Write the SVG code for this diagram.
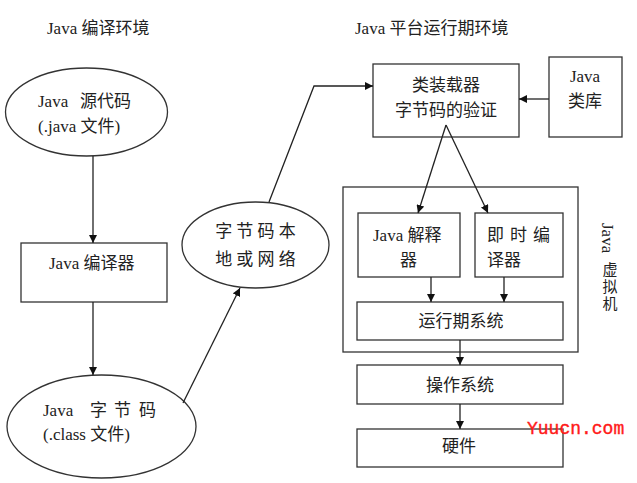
<svg xmlns="http://www.w3.org/2000/svg" width="637" height="483" viewBox="0 0 637 483">
<defs>
<style>
text{font-family:"Liberation Serif","Noto Sans CJK SC",serif;font-size:17px;fill:#222}
.m{text-anchor:middle}
.v{text-anchor:middle;font-size:15px}
.s{fill:#fff;stroke:#333;stroke-width:1.3}
.c{fill:none;stroke:#222;stroke-width:1.3}
.wm{font-family:"Liberation Mono",monospace;font-size:18px;fill:#ff1a1a;stroke:#ff1a1a;stroke-width:0.4}
</style>
<marker id="a" viewBox="0 0 10 10" refX="10" refY="5" markerWidth="8" markerHeight="8" markerUnits="userSpaceOnUse" orient="auto">
<path d="M0,0 L10,5 L0,10 z" fill="#111"/>
</marker>
</defs>
<rect width="637" height="483" fill="#fff"/>
<text x="47" y="34">Java 编译环境</text>
<text x="355" y="34">Java 平台运行期环境</text>
<g id="jvm">
<rect class="s" x="343" y="187" width="235" height="165"/>
<text x="602" y="223" transform="rotate(90 602 223)">Java</text>
<text class="v" x="610" y="275">虚</text>
<text class="v" x="610" y="292">拟</text>
<text class="v" x="610" y="309">机</text>
</g>
<g id="src">
<ellipse class="s" cx="86.5" cy="112" rx="81" ry="44"/>
<text x="38" y="107">Java<tspan x="80">源代码</tspan></text>
<text x="38" y="132">(.java 文件)</text>
</g>
<g id="compiler">
<rect class="s" x="21" y="243" width="146" height="59"/>
<text x="49" y="269">Java 编译器</text>
</g>
<g id="bytecode">
<ellipse class="s" cx="101.5" cy="426.5" rx="94.5" ry="51.5"/>
<text x="43" y="416">Java<tspan x="90">字</tspan><tspan x="114">节</tspan><tspan x="139">码</tspan></text>
<text x="43" y="440">(.class 文件)</text>
</g>
<g id="net">
<ellipse class="s" cx="255.5" cy="245" rx="73.5" ry="43"/>
<text class="m" x="255.5" y="237">字 节 码 本</text>
<text class="m" x="255.5" y="265">地 或 网 络</text>
</g>
<g id="loader">
<rect class="s" x="373" y="64" width="146" height="73"/>
<text class="m" x="446" y="91">类装载器</text>
<text class="m" x="446" y="116">字节码的验证</text>
</g>
<g id="lib">
<rect class="s" x="549" y="57" width="73" height="80"/>
<text class="m" x="585" y="82">Java</text>
<text class="m" x="585" y="107">类库</text>
</g>
<g id="interp">
<rect class="s" x="358" y="213" width="102" height="64"/>
<text x="373" y="241">Java 解释</text>
<text x="400" y="266">器</text>
</g>
<g id="jit">
<rect class="s" x="475" y="213" width="88" height="64"/>
<text x="487" y="241">即<tspan x="510">时</tspan><tspan x="533">编</tspan></text>
<text x="487" y="266">译器</text>
</g>
<g id="runtime">
<rect class="s" x="357" y="302" width="206" height="38"/>
<text class="m" x="461" y="327">运行期系统</text>
</g>
<g id="os">
<rect class="s" x="357" y="365" width="206" height="39"/>
<text class="m" x="460" y="391">操作系统</text>
</g>
<g id="hw">
<rect class="s" x="357" y="429" width="206" height="38"/>
<text class="m" x="459" y="452">硬件</text>
</g>
<g id="connectors">
<path class="c" d="M93,156 L93,243" marker-end="url(#a)"/>
<path class="c" d="M93,302 L93,375" marker-end="url(#a)"/>
<path class="c" d="M183,403 L240,288" marker-end="url(#a)"/>
<path class="c" d="M269,202 L314,86 L373,86" marker-end="url(#a)"/>
<path class="c" d="M549,99 L519,99" marker-end="url(#a)"/>
<path class="c" d="M446,125 L418,213" marker-end="url(#a)"/>
<path class="c" d="M446,125 L488,213" marker-end="url(#a)"/>
<path class="c" d="M431,277 L431,302" marker-end="url(#a)"/>
<path class="c" d="M504,277 L504,302" marker-end="url(#a)"/>
<path class="c" d="M460,340 L460,365" marker-end="url(#a)"/>
<path class="c" d="M460,404 L460,429" marker-end="url(#a)"/>
</g>
<text class="wm" x="527" y="434">Yuucn.com</text>
</svg>
